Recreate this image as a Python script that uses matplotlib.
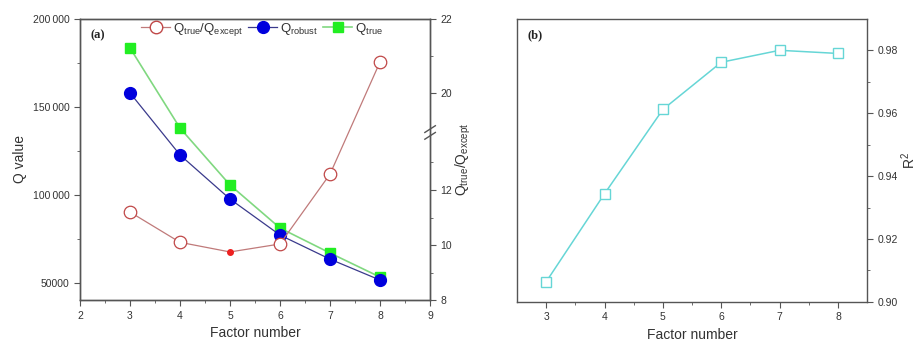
import numpy as np
import matplotlib
matplotlib.use("Agg")
import matplotlib.pyplot as plt
from matplotlib.ticker import FixedLocator, FixedFormatter
from matplotlib.lines import Line2D

plt.rcParams['font.family'] = ['Liberation Sans', 'DejaVu Sans']
plt.rcParams['mathtext.default'] = 'regular'

factors = [3, 4, 5, 6, 7, 8]
q_robust = [157900, 122600, 97500, 77000, 63300, 51400]
q_true = [183500, 137900, 105500, 81000, 66800, 53100]
q_ratio = [11.2, 10.1, 9.75, 10.04, 12.58, 20.84]
r2 = [0.9064, 0.9344, 0.9612, 0.9762, 0.980, 0.979]

q_ticks = [50000, 100000, 150000, 200000]
q_ticklabels = ['50000', '100\u2009000', '150\u2009000', '200\u2009000']

spine_col = '#555555'
text_col = '#333333'


# broken right axis: 8-14 below, 19-22 above
def fwd(v):
    v = np.asarray(v, dtype=float)
    return np.where(v <= 14, (v - 8) * 27.5,
                    np.where(v >= 19, 170 + (v - 19) * 37, 165 + (v - 14)))


def inv(d):
    d = np.asarray(d, dtype=float)
    return np.where(d <= 165, 8 + d / 27.5,
                    np.where(d >= 170, 19 + (d - 170) / 37, 14 + (d - 165)))


def style(ax):
    for s in ax.spines.values():
        s.set_color(spine_col)
        s.set_linewidth(1.0)
    ax.tick_params(which='both', colors=spine_col, labelcolor=text_col, labelsize=7.5)
    ax.tick_params(which='major', length=4)
    ax.tick_params(which='minor', length=2.5)


fig = plt.figure(figsize=(9.19, 3.43), dpi=100)

# ---- panel (a)
ax = fig.add_axes([0.087, 0.125, 0.381, 0.82])
ax.plot(factors, q_robust, color='#3a3a8c', lw=0.9, marker='o', ms=8.5,
        mfc='#0000dd', mec='#0000dd', zorder=3)
ax.plot(factors, q_true, color='#80d880', lw=1.2, marker='s', ms=7,
        mfc='#22ee22', mec='#22ee22', zorder=2)
ax.set_xlim(2, 9)
ax.set_ylim(40000, 200000)
ax.xaxis.set_major_locator(FixedLocator(range(2, 10)))
ax.xaxis.set_minor_locator(FixedLocator(np.arange(2.5, 9, 1)))
ax.yaxis.set_major_locator(FixedLocator(q_ticks))
ax.yaxis.set_major_formatter(FixedFormatter(q_ticklabels))
ax.yaxis.set_minor_locator(FixedLocator([75000, 125000, 175000]))
ax.set_xlabel('Factor number', fontsize=10, color=text_col)
ax.set_ylabel('Q value', fontsize=10, color=text_col)
style(ax)
ax.text(0.03, 0.93, '(a)', transform=ax.transAxes, fontsize=9, fontweight='bold',
        family='Liberation Serif', color='#222222')

ax2 = ax.twinx()
ax2.set_yscale('function', functions=(fwd, inv))
ax2.plot(factors, q_ratio, color='#c07a7a', lw=0.9, marker='o', ms=9,
         mfc='white', mec='#c04848', mew=0.9, markevery=[0, 1, 3, 4, 5])
ax2.plot(factors[2], q_ratio[2], 'o', ms=4, color='#ee2020')
ax2.set_ylim(8, 22)
ax2.yaxis.set_major_locator(FixedLocator([8, 10, 12, 20, 22]))
ax2.yaxis.set_major_formatter(FixedFormatter(['8', '10', '12', '20', '22']))
ax2.yaxis.set_minor_locator(FixedLocator([9, 11, 13, 21]))
ax2.set_ylabel('Q$_{true}$/Q$_{except}$', fontsize=10, color=text_col, labelpad=1)
style(ax2)
# break marks
yb = fwd(16.5) / fwd(22)
for dy in (-0.012, 0.012):
    ax2.plot([0.985, 1.015], [yb + dy - 0.012, yb + dy + 0.012], transform=ax2.transAxes,
             color=spine_col, lw=1.0, clip_on=False)

handles = [
    Line2D([], [], color='#c07a7a', lw=0.9, marker='o', ms=9, mfc='white', mec='#c04848'),
    Line2D([], [], color='#3a3a8c', lw=0.9, marker='o', ms=8.5, mfc='#0000dd', mec='#0000dd'),
    Line2D([], [], color='#80d880', lw=1.2, marker='s', ms=7, mfc='#22ee22', mec='#22ee22'),
]
labels = ['Q$_{true}$/Q$_{except}$', 'Q$_{robust}$', 'Q$_{true}$']
ax2.legend(handles, labels, loc='upper center', bbox_to_anchor=(0.52, 1.035), ncol=3,
           frameon=False, fontsize=9.5, handlelength=2.2, handletextpad=0.2,
           columnspacing=0.4, labelcolor=text_col)

# ---- panel (b)
bx = fig.add_axes([0.5626, 0.12, 0.381, 0.825])
bx.plot(factors, r2, color='#66d6d6', lw=1.1, marker='s', ms=7,
        mfc='white', mec='#66d6d6', mew=1.0)
bx.set_xlim(2.5, 8.5)
bx.set_ylim(0.90, 0.99)
bx.xaxis.set_major_locator(FixedLocator(factors))
bx.xaxis.set_minor_locator(FixedLocator(np.arange(3.5, 8.5, 1)))
bx.yaxis.set_major_locator(FixedLocator([0.90, 0.92, 0.94, 0.96, 0.98]))
bx.yaxis.set_major_formatter(FixedFormatter(['0.90', '0.92', '0.94', '0.96', '0.98']))
bx.yaxis.set_minor_locator(FixedLocator([0.91, 0.93, 0.95, 0.97]))
bx.yaxis.tick_right()
bx.yaxis.set_label_position('right')
bx.set_xlabel('Factor number', fontsize=10, color=text_col)
bx.set_ylabel('R$^2$', fontsize=10, color=text_col, labelpad=1)
style(bx)
bx.text(0.03, 0.93, '(b)', transform=bx.transAxes, fontsize=9, fontweight='bold',
        family='Liberation Serif', color='#222222')

fig.savefig('out.png', dpi=100)
